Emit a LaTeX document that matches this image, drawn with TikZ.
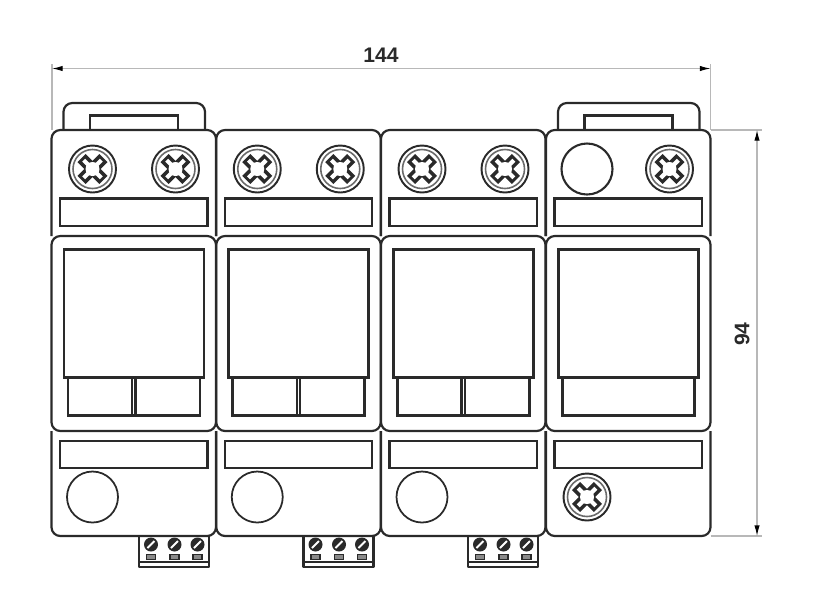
\documentclass[tikz,border=0pt]{standalone}
\usepackage{fontspec}
\setmainfont{Liberation Sans}
\usepackage{xcolor}
\definecolor{inkdark}{HTML}{2a2a2a}
\definecolor{dimgray}{HTML}{b8b8b8}
\usetikzlibrary{arrows.meta,calc}
\tikzset{
    x=0.02cm,y=-0.02cm,
    body/.style = {draw=inkdark, line width=1.25pt, line join=round},
    plate/.style = {draw=inkdark, line width=1.2pt},
    window/.style = {draw=inkdark, line width=1.7pt},
    dimline/.style = {draw=dimgray, line width=0.6pt},
    dimarrow/.style = {dimline, {Latex[color=black,length=6pt,width=3pt]}-{Latex[color=black,length=6pt,width=3pt]}},
    dimtext/.style = {font=\fontsize{12}{12}\selectfont\bfseries, text=inkdark, inner sep=0pt}
}
% screw head with cross slot
\newcommand\screwhead[2]{
    \draw[inkdark, line width=1.1pt] (#1,#2) circle[radius=23.5];
    \draw[inkdark!70, line width=0.9pt] (#1,#2) circle[radius=19.5];
    \foreach \ang in {45,135}{
        \draw[inkdark, line width=6.6pt] ($(#1,#2)+(\ang:15.5)$) -- ($(#1,#2)+(\ang+180:15.5)$);
    }
    \foreach \ang in {45,135}{
        \draw[white, line width=2.4pt] ($(#1,#2)+(\ang:12.5)$) -- ($(#1,#2)+(\ang+180:12.5)$);
    }
    \fill[white] (#1,#2) circle[radius=7];
}
\begin{document}
\begin{tikzpicture}
    \useasboundingbox (0,0) rectangle (830,610);

    % clips on top of first and last module
    \foreach \cx in {51.5,546}{
        \draw[body, rounded corners=5pt] (\cx+12,130) -- (\cx+12,103) -- (\cx+153.5,103) -- (\cx+153.5,130);
        \draw[plate] (\cx+38.5,130) -- (\cx+38.5,115.5) -- (\cx+126.5,115.5) -- (\cx+126.5,130);
    }

    % the four modules
    \foreach \cx in {51.5,216.25,381,546}{
        \draw[body, rounded corners=5pt] (\cx,236) -- (\cx,130) -- (\cx+164.5,130) -- (\cx+164.5,236);
        \draw[body, rounded corners=5pt] (\cx,236) rectangle (\cx+164.5,431);
        \draw[body, rounded corners=5pt] (\cx,431) -- (\cx,536) -- (\cx+164.5,536) -- (\cx+164.5,431);
        \draw[plate] (\cx+8.5,198.5) rectangle (\cx+156,226);
        \draw[plate] (\cx+8.5,441) rectangle (\cx+156,468);
        \draw[window] (\cx+12.5,249) rectangle (\cx+152.5,377);
        \draw[window] (\cx+16.5,377) rectangle (\cx+148.5,415);
    }

    % dividers of the three lower flaps
    \foreach \cx in {51.5,216.25,381}{
        \draw[plate] (\cx+80.5,377) -- (\cx+80.5,415);
        \draw[plate] (\cx+84,377) -- (\cx+84,415);
    }

    % screws and round holes
    \foreach \cx in {51.5,216.25,381}{
        \screwhead{\cx+41}{169}
        \screwhead{\cx+124}{169}
        \draw[inkdark, line width=1pt] (\cx+41,497) circle[radius=25.5];
    }
    \draw[inkdark, line width=1.2pt] (587,169) circle[radius=25.5];
    \screwhead{669.5}{169}
    \screwhead{587}{497}

    % terminal blocks
    \foreach \tx in {139,303.5,468}{
        \draw[body] (\tx,536) -- (\tx,567) -- (\tx+70,567) -- (\tx+70,536);
        \draw[plate] (\tx,562) -- (\tx+70,562);
        \foreach \sx in {12,35.5,58.5}{
            \fill[inkdark] (\tx+\sx,544.5) circle[radius=7];
            \draw[white, line width=1.1pt] (\tx+\sx-3.5,548) -- (\tx+\sx+3.5,541);
            \draw[inkdark, fill=inkdark!55, line width=0.9pt] (\tx+\sx-4.5,554.5) rectangle (\tx+\sx+4.5,559.5);
        }
    }

    % dimensions
    \coordinate (wleft) at (52,68.5);
    \coordinate (wright) at (710.5,68.5);
    \coordinate (wleftfoot) at (52,130);
    \coordinate (wrightfoot) at (710.5,130);
    \coordinate (htop) at (757,130);
    \coordinate (hbot) at (757,536);
    \draw[dimline] (wleftfoot) -- (52,64);
    \draw[dimline] (wrightfoot) -- (710.5,64);
    \draw[dimline] (wrightfoot) -- (762,130);
    \draw[dimline] (710.5,536) -- (762,536);
    \draw[dimarrow] (wleft) -- (wright);
    \draw[dimarrow] (htop) -- (hbot);
    \node[dimtext] (width) at (381,55) {144};
    \node[dimtext, rotate=90] (height) at (742,334) {94};
\end{tikzpicture}
\end{document}
